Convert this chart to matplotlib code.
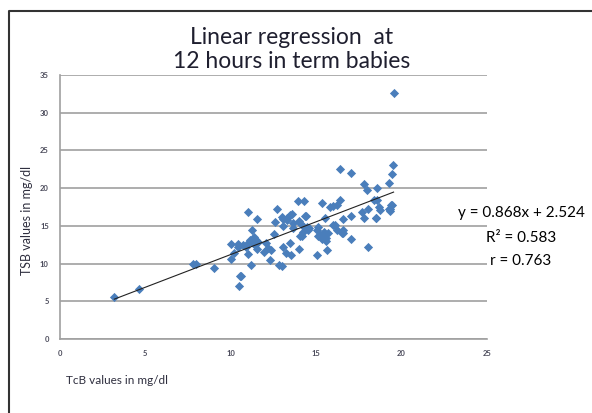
import numpy as np
import matplotlib
matplotlib.use("Agg")
import matplotlib.pyplot as plt
from matplotlib.lines import Line2D

# TcB (x) vs TSB (y) readings at 12 hours
tcb = [3.18, 4.6, 7.8, 7.97, 9.0, 10.0, 10.0, 10.2, 10.45, 10.55, 10.6, 10.5,
       10.7, 11.0, 11.03, 11.03, 11.13, 11.2, 11.23, 11.33, 11.5, 11.52, 11.52,
       11.6, 11.95, 12.07, 12.3, 12.34, 12.5, 12.6, 12.7, 12.85, 12.99, 13.04,
       12.99, 13.08, 13.24, 13.3, 13.47, 13.5, 13.57, 13.63, 13.96, 14.3, 14.06,
       14.02, 14.06, 14.25, 14.4, 14.45, 14.53, 15.04, 15.04, 15.1, 15.33, 15.33,
       15.47, 15.52, 15.63, 15.6, 15.7, 15.82, 16.0, 16.1, 16.2, 16.4, 16.4,
       16.56, 16.56, 16.5, 17.03, 17.03, 17.03, 17.67, 17.8, 17.77, 17.97, 18.06,
       18.03, 18.36, 18.5, 18.55, 18.55, 18.75, 19.24, 19.3, 19.43, 19.43, 19.5,
       19.35, 19.53,
       10.45, 11.17, 11.3, 11.4, 10.9, 12.2, 13.05, 13.28, 13.44, 13.67, 14.0,
       14.16, 14.3, 14.36, 15.08, 15.43, 15.6, 16.0, 16.2, 16.56, 18.65, 19.37,
       19.24, 18.5, 14.6, 15.2]
tsb = [5.52, 6.67, 9.93, 9.93, 9.45, 12.6, 10.55, 11.4, 12.2, 8.3, 8.3, 7.06,
       12.5, 16.86, 12.67, 11.26, 13.1, 9.8, 14.4, 13.5, 13.1, 15.85, 11.9,
       12.9, 11.57, 12.7, 10.46, 11.8, 13.9, 15.5, 17.2, 9.8, 9.67, 12.2,
       16.2, 15.85, 11.35, 16.0, 12.67, 11.1, 16.6, 14.7, 18.3, 18.3, 13.6,
       11.87, 15.4, 14.2, 16.3, 14.9, 14.5, 11.13, 14.44, 13.6, 18.05, 13.3,
       14.2, 16.0, 11.8, 13.0, 14.1, 17.5, 17.6, 15.1, 14.4, 18.4, 22.6,
       15.85, 14.5, 14.0, 22.0, 16.3, 13.2, 16.86, 16.0, 20.5, 19.8, 17.2,
       12.2, 18.45, 16.1, 19.96, 18.4, 17.1, 20.7, 17.3, 17.75, 21.9, 23.1,
       17.0, 32.6,
       12.6, 12.9, 12.7, 12.4, 12.2, 12.0, 15.0, 15.8, 16.4, 15.4, 15.7,
       13.6, 14.8, 16.3, 14.8, 14.0, 13.4, 15.1, 17.7, 14.0, 17.5, 17.7,
       17.2, 16.0, 14.7, 13.8]

slope = 0.868
intercept = 2.524
r_squared = 0.583
r_value = 0.763

x_ticks = [0, 5, 10, 15, 20, 25]
y_ticks = [0, 5, 10, 15, 20, 25, 30, 35]

font = "Lato"
tick_color = "#4a4a5a"

fig = plt.figure(figsize=(5.92, 4.13), dpi=100)
ax = fig.add_axes([60 / 592, 74 / 413, 427 / 592, 264 / 413])

ax.scatter(tcb, tsb, marker="D", s=22, color="#4a7ebb", linewidths=0, zorder=3)

xs = np.array([min(tcb), max(tcb)])
ax.plot(xs, slope * xs + intercept, color="#222222", linewidth=0.8, zorder=4)

ax.set_xlim(0, 25)
ax.set_ylim(0, 35)
ax.set_xticks(x_ticks)
ax.set_yticks(y_ticks)
ax.tick_params(length=0, labelsize=5.5, labelcolor=tick_color, pad=8)
for lab in ax.get_xticklabels() + ax.get_yticklabels():
    lab.set_fontweight("bold")
    lab.set_fontfamily(font)
ax.grid(axis="y", color="#a0a0a0", linewidth=1.2)
ax.set_axisbelow(True)
for side in ("top", "right"):
    ax.spines[side].set_visible(False)
for side in ("left", "bottom"):
    ax.spines[side].set_color("#a0a0a0")
    ax.spines[side].set_linewidth(1.2)

# title and axis labels
fig.text(292 / 592, 1 - 38 / 413, "Linear regression  at", ha="center", va="center",
         fontsize=16.5, family=font, color="#1f1f2f")
fig.text(292 / 592, 1 - 62 / 413, "12 hours in term babies", ha="center", va="center",
         fontsize=16.5, family=font, color="#1f1f2f")
fig.text(27 / 592, 1 - 220 / 413, "TSB values in mg/dl", rotation=90, ha="center",
         va="center", fontsize=9, family=font, color="#2f2f3f")
fig.text(66 / 592, 1 - 381 / 413, "TcB values in mg/dl", ha="left", va="center",
         fontsize=8.5, family=font, color="#2f2f3f")

# regression stats
fig.text(521 / 592, 1 - 213 / 413, f"y = {slope}x + {intercept}", ha="center",
         va="center", fontsize=11, family=font, color="black")
fig.text(521 / 592, 1 - 238 / 413, f"R\u00b2 = {r_squared}", ha="center",
         va="center", fontsize=11, family=font, color="black")
fig.text(521 / 592, 1 - 261 / 413, f"r = {r_value}", ha="center",
         va="center", fontsize=11, family=font, color="black")

# partial frame around the chart
fig.add_artist(Line2D([9 / 592, 9 / 592, 1], [0, 1 - 11 / 413, 1 - 11 / 413],
                      transform=fig.transFigure, color="#333333", linewidth=1.5))

fig.savefig("out.png", dpi=100)
